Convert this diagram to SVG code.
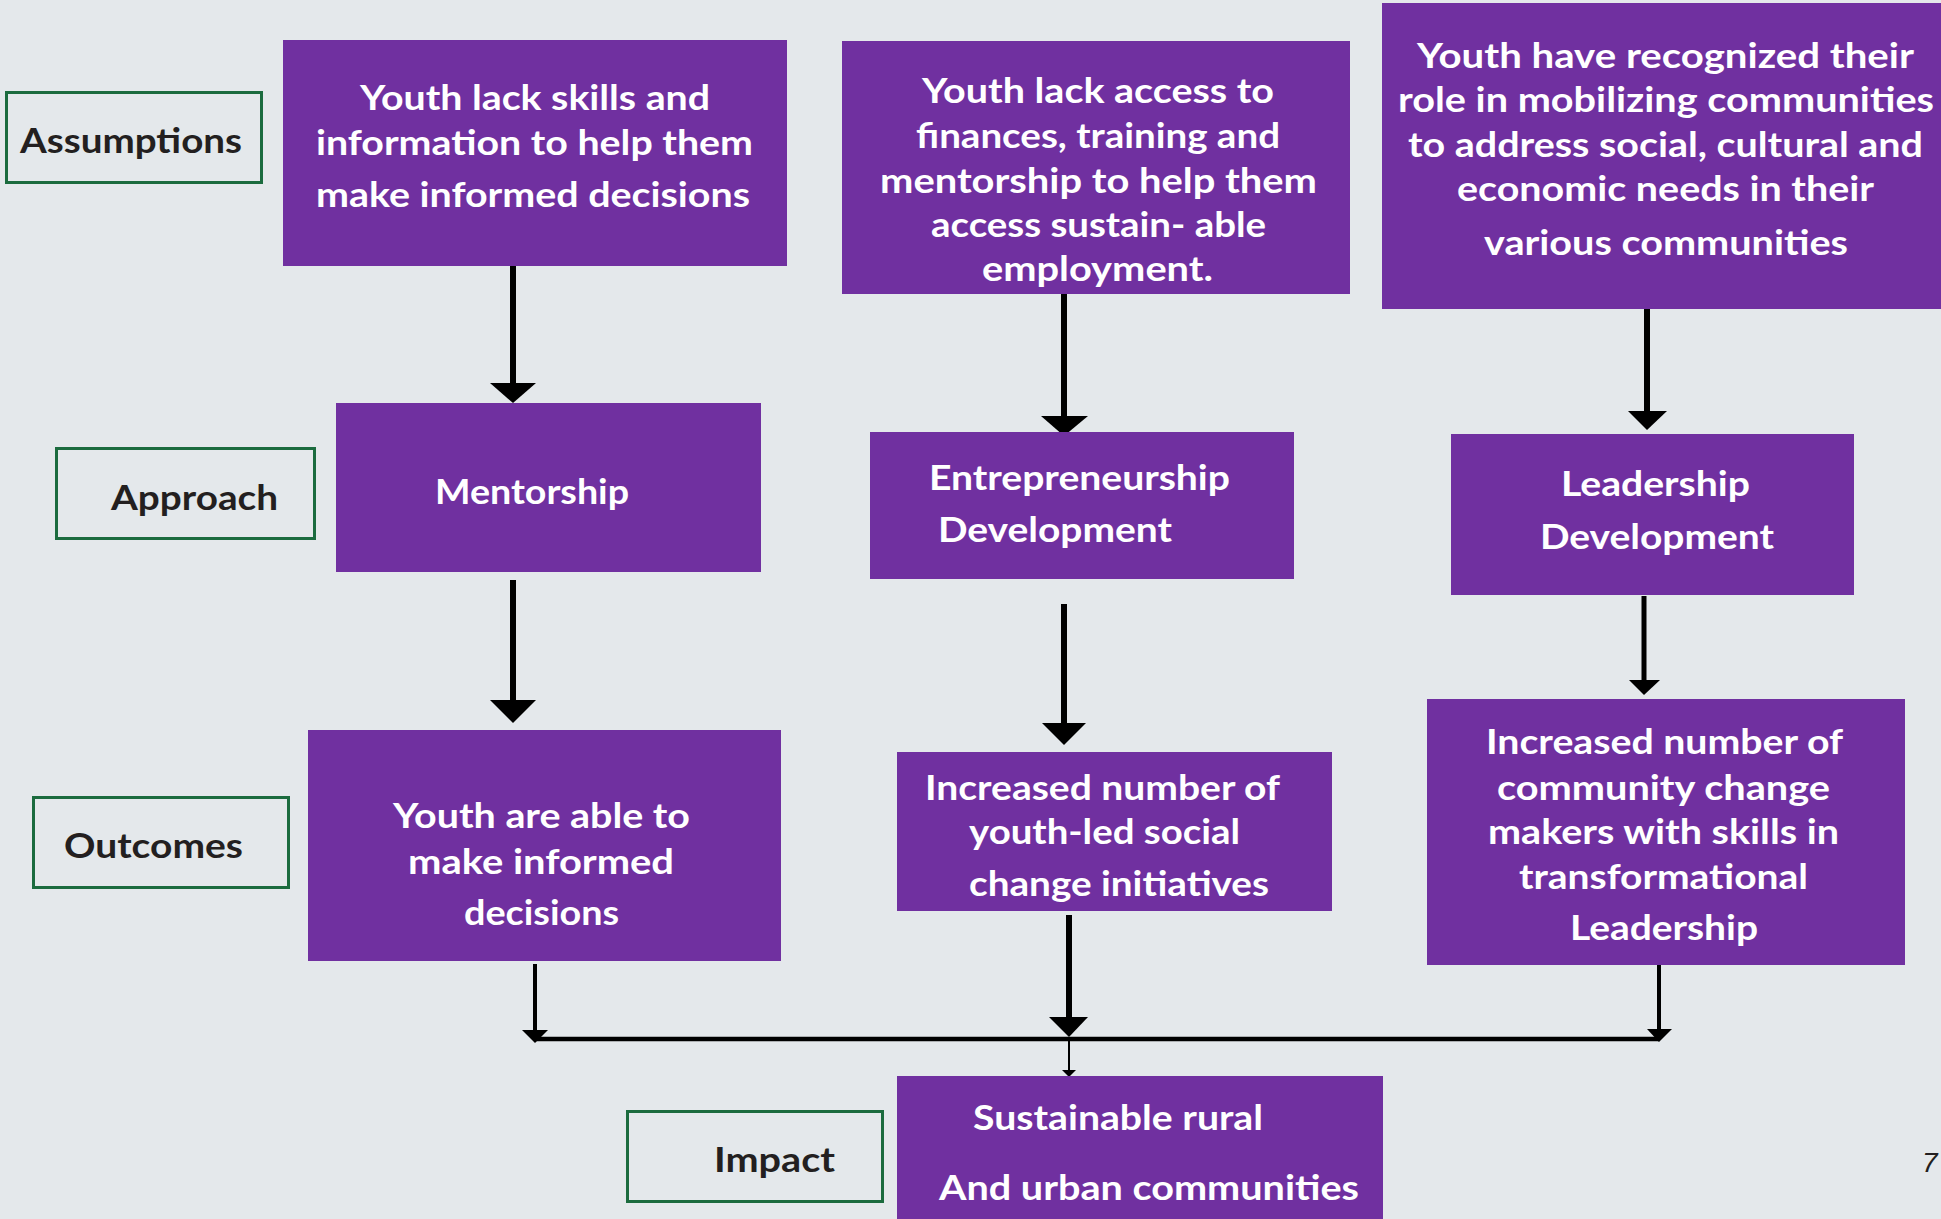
<svg xmlns="http://www.w3.org/2000/svg" width="1941" height="1219" viewBox="0 0 1941 1219">
<style>
.bg{fill:#E4E8EB}
.box{fill:#7030A0}
.lab{fill:none;stroke:#1B6B3E;stroke-width:3}
.t{font-family:Lato,"Open Sans","Liberation Sans",sans-serif;font-weight:700;font-size:35px;fill:#FFFFFF}
.lt{font-family:Lato,"Open Sans","Liberation Sans",sans-serif;font-weight:700;font-size:35px;fill:#231F20}
.conn{stroke:#000;fill:none}
.head{fill:#000}
</style>
<rect class="bg" x="0" y="0" width="1941" height="1219"/>
<g id="connectors">
<line class="conn" x1="513" y1="266" x2="513" y2="385" stroke-width="6"/>
<polygon class="head" points="490,383 536,383 513,403"/>
<line class="conn" x1="1064" y1="294" x2="1064" y2="418" stroke-width="6"/>
<polygon class="head" points="1041,416 1088,416 1064,436"/>
<line class="conn" x1="1647" y1="309" x2="1647" y2="413" stroke-width="6"/>
<polygon class="head" points="1628,411 1667,411 1647,430"/>
<line class="conn" x1="513" y1="580" x2="513" y2="702" stroke-width="6"/>
<polygon class="head" points="490,700 536,700 513,723"/>
<line class="conn" x1="1064" y1="604" x2="1064" y2="725" stroke-width="6"/>
<polygon class="head" points="1042,723 1086,723 1064,745"/>
<line class="conn" x1="1644" y1="596" x2="1644" y2="682" stroke-width="5"/>
<polygon class="head" points="1629,680 1660,680 1644,695"/>
<line class="conn" x1="535" y1="964" x2="535" y2="1032" stroke-width="4"/>
<polygon class="head" points="522,1030 548,1030 535,1043"/>
<line class="conn" x1="1069" y1="915" x2="1069" y2="1019" stroke-width="6"/>
<polygon class="head" points="1049,1017 1088,1017 1069,1037"/>
<line class="conn" x1="1659" y1="965" x2="1659" y2="1031" stroke-width="4"/>
<polygon class="head" points="1647,1029 1672,1029 1659,1042"/>
<line class="conn" x1="535" y1="1039" x2="1659" y2="1039" stroke-width="4.5"/>
<line class="conn" x1="1069" y1="1039" x2="1069" y2="1072" stroke-width="2"/>
<polygon class="head" points="1062,1070 1076,1070 1069,1077"/>
</g>
<g id="label-assumptions">
<rect class="lab" x="6.5" y="92.5" width="255" height="90"/>
<text class="lt" x="20" y="153" textLength="222" lengthAdjust="spacingAndGlyphs">Assumptions</text>
</g>
<g id="label-approach">
<rect class="lab" x="56.5" y="448.5" width="258" height="90"/>
<text class="lt" x="111" y="510" textLength="167" lengthAdjust="spacingAndGlyphs">Approach</text>
</g>
<g id="label-outcomes">
<rect class="lab" x="33.5" y="797.5" width="255" height="90"/>
<text class="lt" x="64" y="858" textLength="179" lengthAdjust="spacingAndGlyphs">Outcomes</text>
</g>
<g id="label-impact">
<rect class="lab" x="627.5" y="1111.5" width="255" height="90"/>
<text class="lt" x="714" y="1172" textLength="121" lengthAdjust="spacingAndGlyphs">Impact</text>
</g>
<g id="assumption-skills">
<rect class="box" x="283" y="40" width="504" height="226"/>
<text class="t" x="360" y="110" textLength="350" lengthAdjust="spacingAndGlyphs">Youth lack skills and</text>
<text class="t" x="316" y="155" textLength="437" lengthAdjust="spacingAndGlyphs">information to help them</text>
<text class="t" x="316" y="207" textLength="434" lengthAdjust="spacingAndGlyphs">make informed decisions</text>
</g>
<g id="assumption-finances">
<rect class="box" x="842" y="41" width="508" height="253"/>
<text class="t" x="922" y="103" textLength="352" lengthAdjust="spacingAndGlyphs">Youth lack access to</text>
<text class="t" x="916" y="148" textLength="364" lengthAdjust="spacingAndGlyphs">finances, training and</text>
<text class="t" x="880" y="193" textLength="437" lengthAdjust="spacingAndGlyphs">mentorship to help them</text>
<text class="t" x="931" y="237" textLength="335" lengthAdjust="spacingAndGlyphs">access sustain- able</text>
<text class="t" x="982" y="281" textLength="231" lengthAdjust="spacingAndGlyphs">employment.</text>
</g>
<g id="assumption-role">
<rect class="box" x="1382" y="3" width="565" height="306"/>
<text class="t" x="1417" y="68" textLength="497" lengthAdjust="spacingAndGlyphs">Youth have recognized their</text>
<text class="t" x="1398" y="112" textLength="536" lengthAdjust="spacingAndGlyphs">role in mobilizing communities</text>
<text class="t" x="1408" y="157" textLength="515" lengthAdjust="spacingAndGlyphs">to address social, cultural and</text>
<text class="t" x="1457" y="201" textLength="417" lengthAdjust="spacingAndGlyphs">economic needs in their</text>
<text class="t" x="1484" y="255" textLength="364" lengthAdjust="spacingAndGlyphs">various communities</text>
</g>
<g id="approach-mentorship">
<rect class="box" x="336" y="403" width="425" height="169"/>
<text class="t" x="435" y="504" textLength="194" lengthAdjust="spacingAndGlyphs">Mentorship</text>
</g>
<g id="approach-entrepreneurship">
<rect class="box" x="870" y="432" width="424" height="147"/>
<text class="t" x="929" y="490" textLength="301" lengthAdjust="spacingAndGlyphs">Entrepreneurship</text>
<text class="t" x="938" y="542" textLength="234" lengthAdjust="spacingAndGlyphs">Development</text>
</g>
<g id="approach-leadership">
<rect class="box" x="1451" y="434" width="403" height="161"/>
<text class="t" x="1561" y="496" textLength="189" lengthAdjust="spacingAndGlyphs">Leadership</text>
<text class="t" x="1540" y="549" textLength="234" lengthAdjust="spacingAndGlyphs">Development</text>
</g>
<g id="outcome-decisions">
<rect class="box" x="308" y="730" width="473" height="231"/>
<text class="t" x="393" y="828" textLength="297" lengthAdjust="spacingAndGlyphs">Youth are able to</text>
<text class="t" x="408" y="874" textLength="266" lengthAdjust="spacingAndGlyphs">make informed</text>
<text class="t" x="464" y="925" textLength="155" lengthAdjust="spacingAndGlyphs">decisions</text>
</g>
<g id="outcome-initiatives">
<rect class="box" x="897" y="752" width="435" height="159"/>
<text class="t" x="925" y="800" textLength="355" lengthAdjust="spacingAndGlyphs">Increased number of</text>
<text class="t" x="969" y="844" textLength="271" lengthAdjust="spacingAndGlyphs">youth-led social</text>
<text class="t" x="969" y="896" textLength="300" lengthAdjust="spacingAndGlyphs">change initiatives</text>
</g>
<g id="outcome-changemakers">
<rect class="box" x="1427" y="699" width="478" height="266"/>
<text class="t" x="1486" y="754" textLength="357" lengthAdjust="spacingAndGlyphs">Increased number of</text>
<text class="t" x="1497" y="800" textLength="333" lengthAdjust="spacingAndGlyphs">community change</text>
<text class="t" x="1488" y="844" textLength="351" lengthAdjust="spacingAndGlyphs">makers with skills in</text>
<text class="t" x="1519" y="889" textLength="289" lengthAdjust="spacingAndGlyphs">transformational</text>
<text class="t" x="1570" y="940" textLength="188" lengthAdjust="spacingAndGlyphs">Leadership</text>
</g>
<g id="impact-communities">
<rect class="box" x="897" y="1076" width="486" height="150"/>
<text class="t" x="973" y="1130" textLength="290" lengthAdjust="spacingAndGlyphs">Sustainable rural</text>
<text class="t" x="939" y="1200" textLength="420" lengthAdjust="spacingAndGlyphs">And urban communities</text>
</g>
<text x="1922" y="1172" font-family="'Liberation Sans',sans-serif" font-size="28" font-style="italic" fill="#231F20">7</text>
</svg>
